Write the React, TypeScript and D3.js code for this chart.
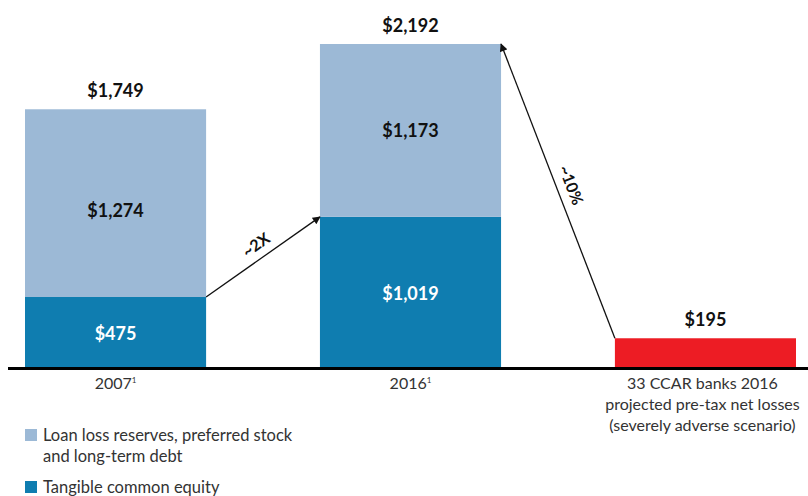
import React from "react";
import * as d3 from "d3";

const categories = ["2007", "2016", "ccar"];
const equity = [475, 1019, 0];
const reserves = [1274, 1173, 0];
const losses = [0, 0, 195];
const totals = ["$1,749", "$2,192", "$195"];
const equityLabels = ["$475", "$1,019", ""];
const reserveLabels = ["$1,274", "$1,173", ""];
const xLabels = [["2007", "1"], ["2016", "1"], null];
const ccarLabel = ["33 CCAR banks 2016", "projected pre-tax net losses", "(severely adverse scenario)"];
const legendItems = [
  { lines: ["Loan loss reserves, preferred stock", "and long-term debt"], color: "#9cb9d6" },
  { lines: ["Tangible common equity"], color: "#0f7db0" },
];

const W = 808;
const H = 496;
const FONT = "Lato, 'Open Sans', sans-serif";

export default function App() {
  const x = d3.scaleBand().domain(categories).range([25, 796]).paddingInner(0.386).paddingOuter(0);
  const y = d3.scaleLinear().domain([0, 2192]).range([367, 44]);
  const bw = x.bandwidth();

  const a1 = { x1: x("2007")! + bw, y1: y(equity[0]), x2: x("2016")!, y2: y(equity[1]) };
  const a2 = { x1: x("ccar")!, y1: y(losses[2]), x2: x("2016")! + bw, y2: y(equity[1] + reserves[1]) };
  const ang1 = (Math.atan2(a1.y2 - a1.y1, a1.x2 - a1.x1) * 180) / Math.PI;
  const ang2 = (Math.atan2(a2.y1 - a2.y2, a2.x1 - a2.x2) * 180) / Math.PI;

  return (
    <svg width={W} height={H} style={{ position: "absolute", left: 0, top: 0, fontFamily: FONT }}>
      <defs>
        <marker id="ah" viewBox="0 0 10 10" refX="9" refY="5" markerWidth="9" markerHeight="8" orient="auto" markerUnits="userSpaceOnUse">
          <path d="M0,0 L10,5 L0,10 z" fill="#111" />
        </marker>
      </defs>
      {categories.map((c, i) => {
        const x0 = x(c)!;
        const total = equity[i] + reserves[i] + losses[i];
        return (
          <g key={c}>
            {equity[i] > 0 && (
              <rect x={x0} y={y(equity[i])} width={bw} height={y(0) - y(equity[i])} fill="#0f7db0" />
            )}
            {reserves[i] > 0 && (
              <rect x={x0} y={y(equity[i] + reserves[i])} width={bw} height={y(equity[i]) - y(equity[i] + reserves[i])} fill="#9cb9d6" />
            )}
            {losses[i] > 0 && (
              <rect x={x0} y={y(losses[i])} width={bw} height={y(0) - y(losses[i])} fill="#ed1c24" />
            )}
            {equityLabels[i] && (
              <text x={x0 + bw / 2} y={(y(0) + y(equity[i])) / 2 + 2} dy="0.35em" textAnchor="middle" fill="#fff" fontSize={18} fontWeight={700}>
                {equityLabels[i]}
              </text>
            )}
            {reserveLabels[i] && (
              <text x={x0 + bw / 2} y={(y(equity[i]) + y(equity[i] + reserves[i])) / 2 + (i === 0 ? 8 : 0)} dy="0.35em" textAnchor="middle" fill="#111" fontSize={18} fontWeight={700}>
                {reserveLabels[i]}
              </text>
            )}
            <text x={x0 + bw / 2} y={y(total) - 12} textAnchor="middle" fill="#111" fontSize={18} fontWeight={700}>
              {totals[i]}
            </text>
            {xLabels[i] ? (
              <text x={x0 + bw / 2} y={389} textAnchor="middle" fill="#333" fontSize={16}>
                {xLabels[i]![0]}
                <tspan fontSize={8} dy={-6}>{xLabels[i]![1]}</tspan>
              </text>
            ) : (
              ccarLabel.map((l, k) => (
                <text key={k} x={x0 + bw / 2 - 3} y={389 + k * 21} textAnchor="middle" fill="#333" fontSize={16}>
                  {l}
                </text>
              ))
            )}
          </g>
        );
      })}
      <line x1={8} x2={808} y1={y(0) + 1.5} y2={y(0) + 1.5} stroke="#000" strokeWidth={3} />

      <line x1={a1.x1} y1={a1.y1} x2={a1.x2} y2={a1.y2} stroke="#111" strokeWidth={1.3} markerEnd="url(#ah)" />
      <text transform={`translate(${(a1.x1 + a1.x2) / 2 - 7},${(a1.y1 + a1.y2) / 2 - 12}) rotate(${ang1})`} textAnchor="middle" dy="0.35em" fontSize={16} fontWeight={700} fill="#111">
        ~2X
      </text>
      <line x1={a2.x1} y1={a2.y1} x2={a2.x2} y2={a2.y2} stroke="#111" strokeWidth={1.3} markerEnd="url(#ah)" />
      <text transform={`translate(${571},${185}) rotate(${ang2})`} textAnchor="middle" dy="0.35em" fontSize={16} fontWeight={700} fill="#111">
        ~10%
      </text>

      {legendItems.map((item, i) => {
        const top = i === 0 ? 429 : 481;
        return (
          <g key={i}>
            <rect x={25} y={top} width={12} height={12} fill={item.color} />
            {item.lines.map((l, k) => (
              <text key={k} x={43} y={top + 12 + k * 21} fill="#333" fontSize={16.5}>
                {l}
              </text>
            ))}
          </g>
        );
      })}
    </svg>
  );
}
